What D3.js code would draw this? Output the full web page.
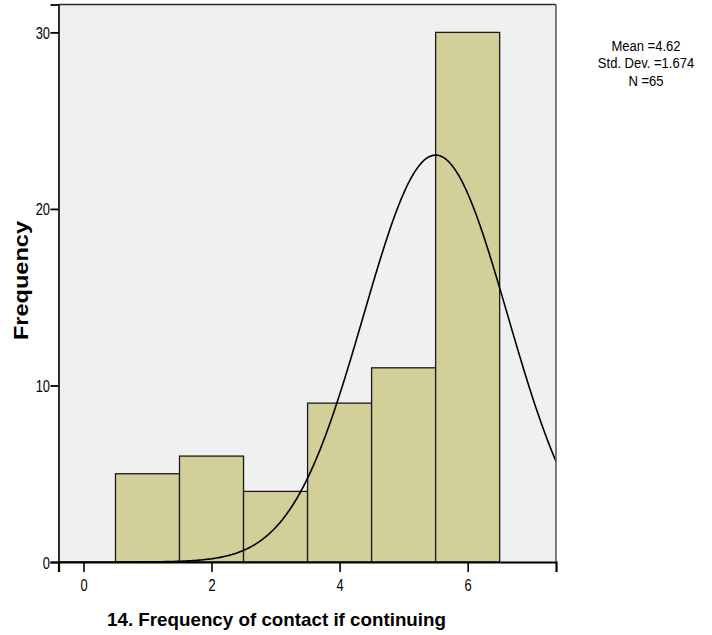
<!DOCTYPE html>
<html>
<head>
<meta charset="utf-8">
<script src="https://cdn.jsdelivr.net/npm/d3@7"></script>
<style>
  html, body { margin: 0; padding: 0; background: #ffffff; }
  svg { display: block; }
  .narrow { font-family: "Liberation Sans Narrow", "Arial Narrow", "Liberation Sans", Arial, sans-serif; fill: #000; }
  .axis-title { font-family: "Liberation Sans", Arial, sans-serif; font-weight: bold; fill: #000; }
</style>
</head>
<body>
<svg id="chart" width="712" height="635"></svg>
<script>
// Histogram bins: centre value and count
const binCenters = [1, 2, 3, 4, 5, 6];
const binCounts = [5, 6, 4, 9, 11, 30];
const binWidth = 1;

// Axis ticks
const xTicks = [0, 2, 4, 6];
const yTicks = [0, 10, 20, 30];

// Fitted normal curve as plotted (centre, spread, total N)
const curveCenter = 5.5;
const curveSpread = 1.125;
const curveN = 65;

// Summary statistics box
const statLines = ["Mean =4.62", "Std. Dev. =1.674", "N =65"];

const xTitle = "14. Frequency of contact if continuing";
const yTitle = "Frequency";

// Horizontal squeeze to give a narrow face to the regular sans
const squeeze = 0.78;

const svg = d3.select("#chart");

const plot = { left: 58.5, right: 556, top: 4.5, bottom: 562 };

const x = d3.scaleLinear().domain([-0.39, 7.38]).range([plot.left, plot.right]);
const y = d3.scaleLinear().domain([0, 31.58]).range([plot.bottom, plot.top]);

// Plot background
svg.append("rect")
  .attr("x", plot.left).attr("y", plot.top)
  .attr("width", plot.right - plot.left).attr("height", plot.bottom - plot.top)
  .attr("fill", "#f0f0f0");

// Bars
svg.append("g").selectAll("rect")
  .data(binCenters.map((c, i) => ({ c, n: binCounts[i] })))
  .join("rect")
  .attr("x", d => x(d.c - binWidth / 2))
  .attr("y", d => y(d.n))
  .attr("width", d => x(d.c + binWidth / 2) - x(d.c - binWidth / 2))
  .attr("height", d => y(0) - y(d.n))
  .attr("fill", "#d3cf99")
  .attr("stroke", "#1a1a1a")
  .attr("stroke-width", 1.3);

// Normal curve
const xDom = x.domain();
const samples = d3.range(0, 401).map(i => xDom[0] + (xDom[1] - xDom[0]) * i / 400);
const density = v => curveN * binWidth / (curveSpread * Math.sqrt(2 * Math.PI)) *
  Math.exp(-((v - curveCenter) ** 2) / (2 * curveSpread * curveSpread));
svg.append("path")
  .datum(samples)
  .attr("fill", "none")
  .attr("stroke", "#000")
  .attr("stroke-width", 1.6)
  .attr("d", d3.line().x(v => x(v)).y(v => y(density(v))));

// Frame
svg.append("line")
  .attr("x1", plot.left).attr("x2", plot.right)
  .attr("y1", plot.top).attr("y2", plot.top)
  .attr("stroke", "#2a2a2a").attr("stroke-width", 1.6);
svg.append("line")
  .attr("x1", plot.right).attr("x2", plot.right)
  .attr("y1", plot.top).attr("y2", plot.bottom)
  .attr("stroke", "#5a5a5a").attr("stroke-width", 1.6);

// Y axis (line and ticks from d3, labels drawn squeezed)
const yAxis = svg.append("g")
  .attr("transform", `translate(${plot.left},0)`)
  .call(d3.axisLeft(y).tickValues(yTicks).tickSize(8).tickFormat(""));
yAxis.select(".domain").attr("stroke", "#1a1a1a").attr("stroke-width", 1.8);
yAxis.selectAll(".tick line").attr("stroke", "#000").attr("stroke-width", 1.8);
yAxis.selectAll(".tick").append("text")
  .attr("class", "narrow")
  .attr("font-size", 16.5)
  .attr("text-anchor", "end")
  .attr("transform", `translate(-8.5,6) scale(${squeeze},1)`)
  .text(d => d3.format("d")(d));

// X axis
const xAxis = svg.append("g")
  .attr("transform", `translate(0,${plot.bottom})`)
  .call(d3.axisBottom(x).tickValues(xTicks).tickSize(10).tickFormat(""));
xAxis.select(".domain").attr("stroke", "#000").attr("stroke-width", 2.2);
xAxis.selectAll(".tick line").attr("stroke", "#000").attr("stroke-width", 1.6);
xAxis.selectAll(".tick").append("text")
  .attr("class", "narrow")
  .attr("font-size", 16.5)
  .attr("text-anchor", "middle")
  .attr("transform", `translate(0,29) scale(${squeeze},1)`)
  .text(d => d3.format("d")(d));

// Axis titles
svg.append("text")
  .attr("class", "axis-title")
  .attr("x", 107).attr("y", 626)
  .attr("font-size", 19)
  .attr("textLength", 339).attr("lengthAdjust", "spacingAndGlyphs")
  .text(xTitle);

svg.append("text")
  .attr("class", "axis-title")
  .attr("transform", "translate(28,280.5) rotate(-90)")
  .attr("text-anchor", "middle")
  .attr("font-size", 20)
  .attr("textLength", 119).attr("lengthAdjust", "spacingAndGlyphs")
  .text(yTitle);

// Statistics
svg.append("g").selectAll("text")
  .data(statLines)
  .join("text")
  .attr("class", "narrow")
  .attr("font-size", 15.5)
  .attr("text-anchor", "middle")
  .attr("transform", (d, i) => `translate(646,${51 + i * 17.3}) scale(0.84,1)`)
  .text(d => d);
</script>
</body>
</html>
